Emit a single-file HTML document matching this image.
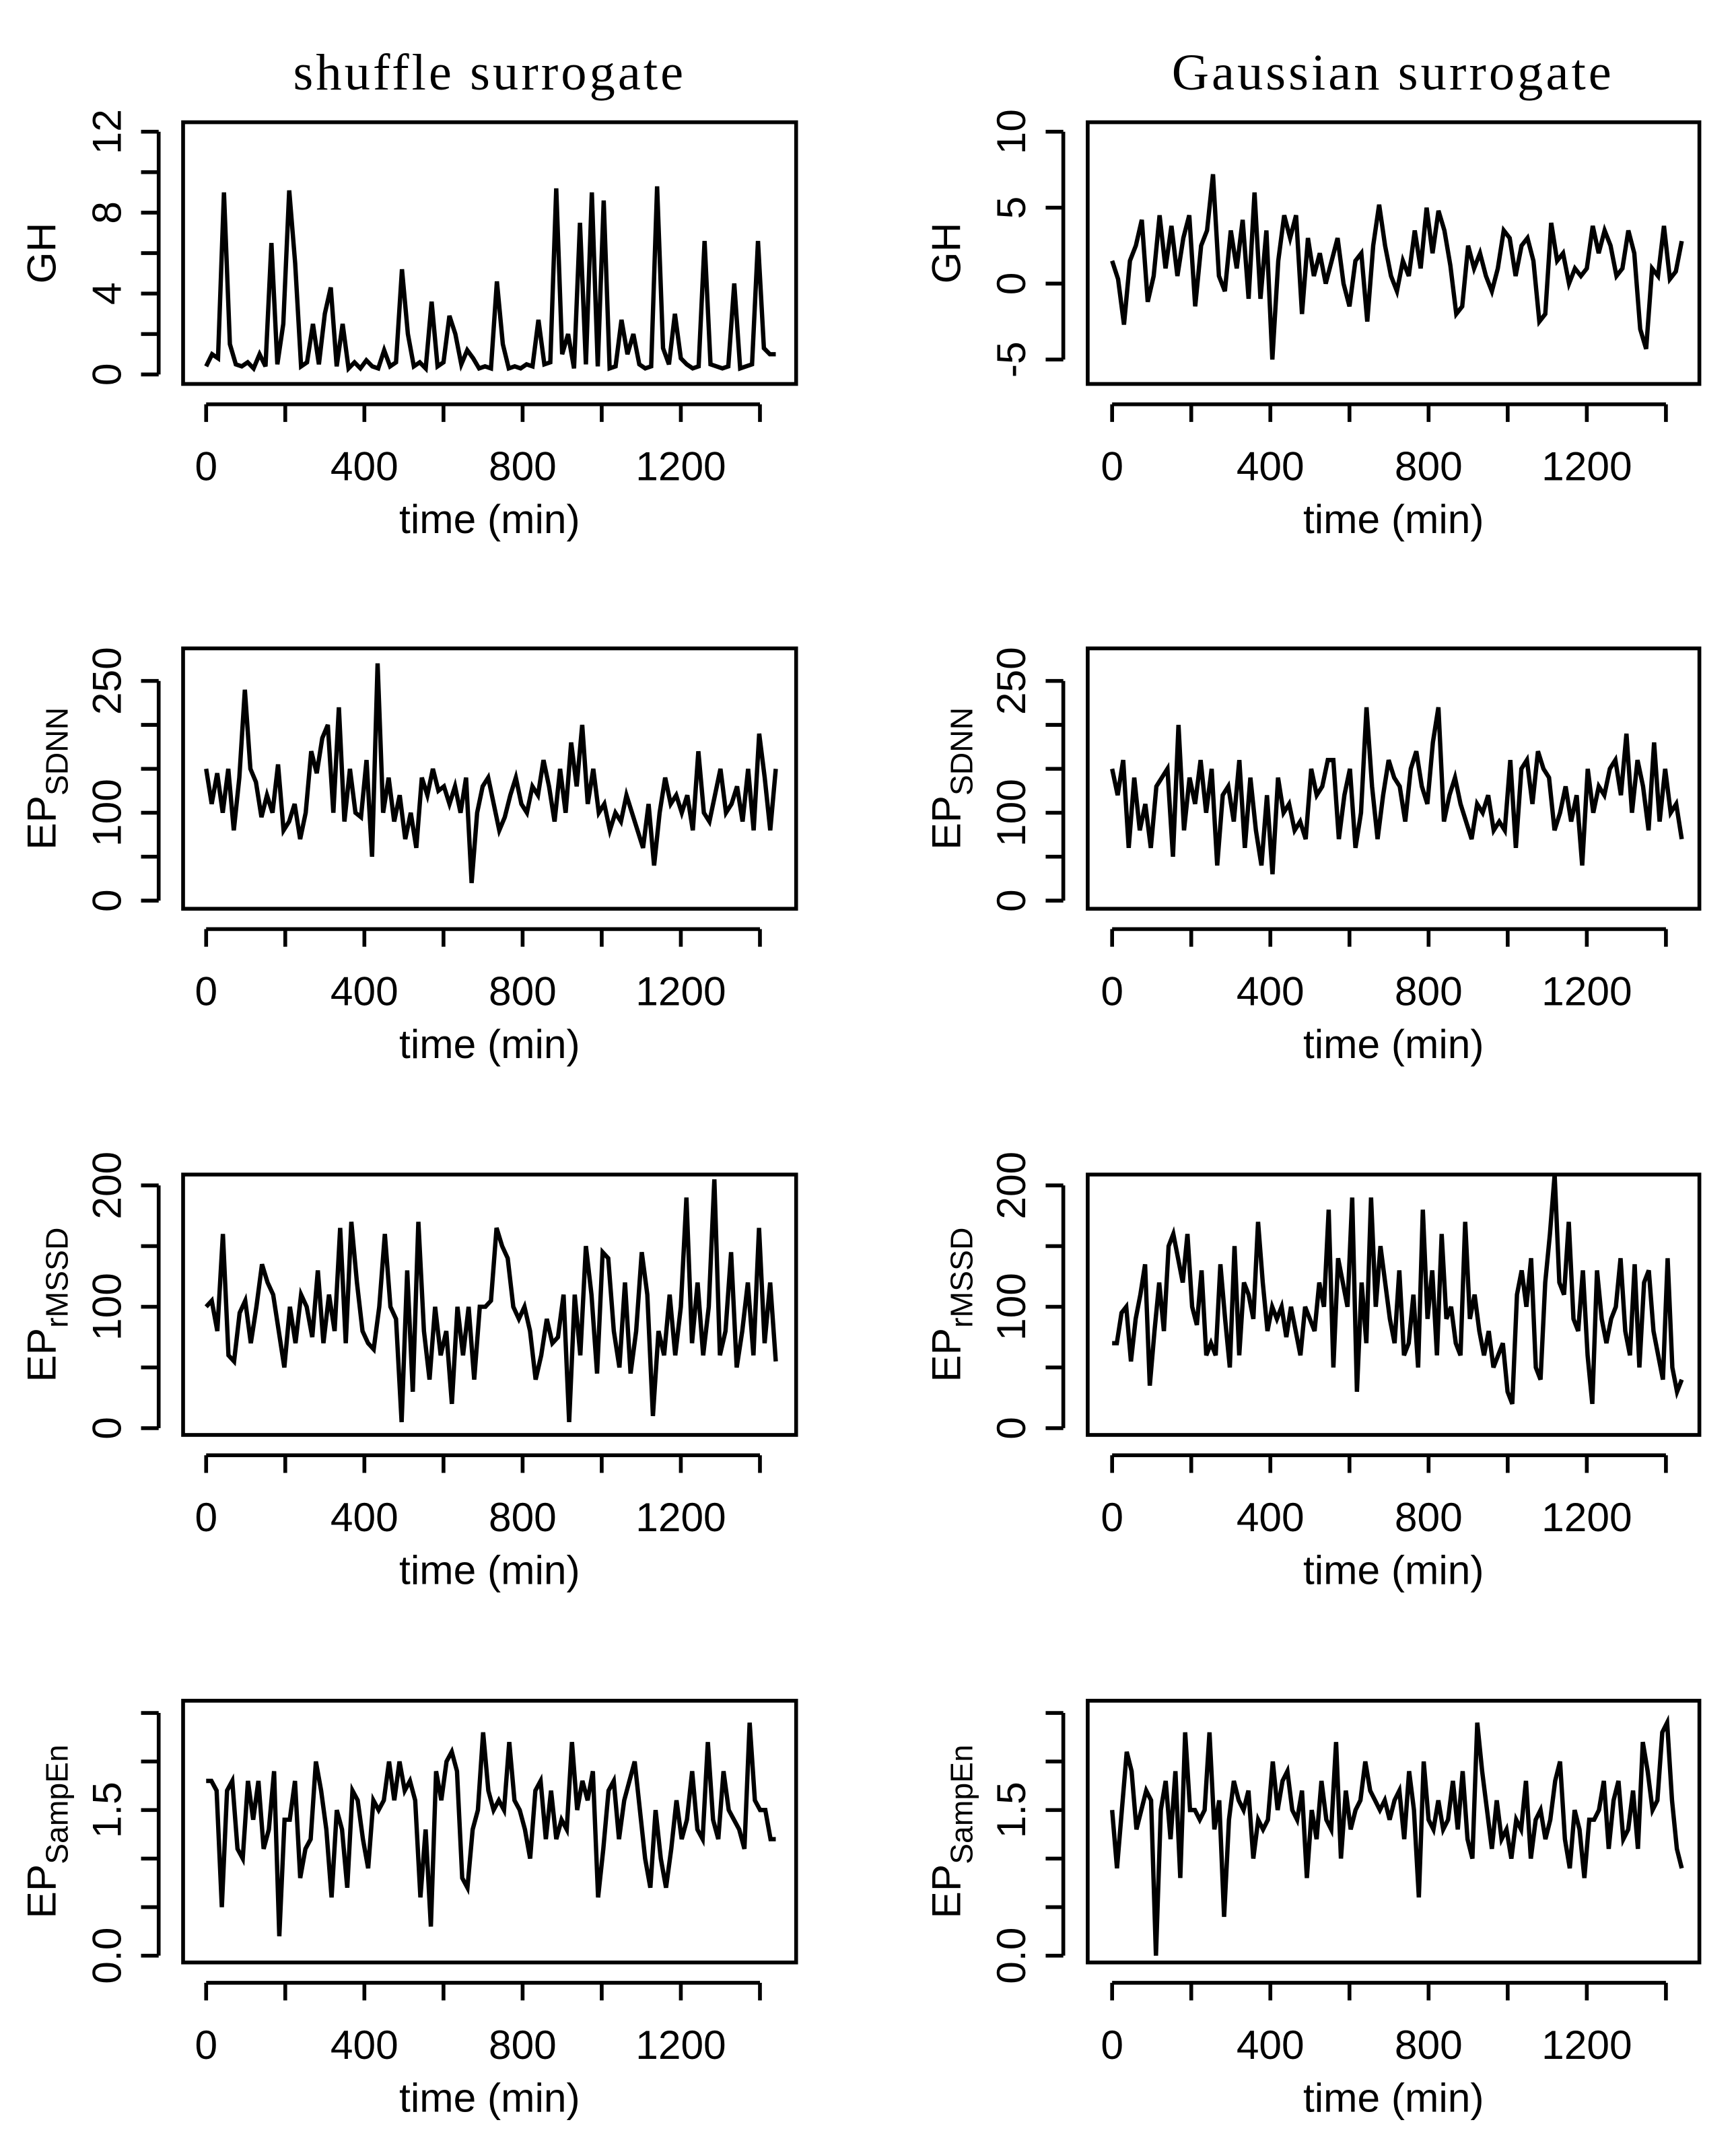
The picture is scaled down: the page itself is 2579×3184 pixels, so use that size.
<!DOCTYPE html>
<html><head><meta charset="utf-8"><style>
html,body{margin:0;padding:0;background:#fff;}
svg{display:block;}
text{font-family:"Liberation Sans",Arial,sans-serif;fill:#000;}
.ttl{font-family:"Liberation Serif",serif;font-size:38px;letter-spacing:2px;}
.tick{font-size:30px;}
</style></head><body>
<svg id="fig" xmlns="http://www.w3.org/2000/svg" width="2579" height="3184" viewBox="0 0 1280 1580">
<rect width="1280" height="1580" fill="#fff"/>
<text class="ttl" x="361" y="66" text-anchor="middle">shuffle surrogate</text>
<text class="ttl" x="1027" y="66" text-anchor="middle">Gaussian surrogate</text>
</svg>
<script>
const ghShuffle=[0.4,1.0,0.8,9.0,1.5,0.5,0.4,0.6,0.3,1.0,0.4,6.5,0.5,2.5,9.1,5.5,0.4,0.6,2.5,0.5,3.0,4.3,0.4,2.5,0.3,0.6,0.3,0.7,0.4,0.3,1.2,0.4,0.6,5.2,2.0,0.4,0.6,0.3,3.6,0.4,0.6,2.9,2.0,0.5,1.2,0.8,0.3,0.4,0.3,4.6,1.5,0.3,0.4,0.3,0.5,0.4,2.7,0.5,0.6,9.2,1.0,2.0,0.3,7.5,0.5,9.0,0.4,8.6,0.3,0.4,2.7,1.0,2.0,0.5,0.3,0.4,9.3,1.3,0.5,3.0,0.8,0.5,0.3,0.4,6.6,0.5,0.4,0.3,0.4,4.5,0.3,0.4,0.5,6.6,1.3,1.0,1.0];
const ghGauss=[1.5,0.3,-2.7,1.5,2.5,4.2,-1.2,0.5,4.5,1.0,3.8,0.5,3.0,4.5,-1.5,2.5,3.5,7.2,0.5,-0.5,3.5,1.0,4.2,-1.0,6.0,-1.0,3.5,-5.0,1.5,4.5,3.0,4.5,-2.0,3.0,0.5,2.0,0.0,1.5,3.0,0.0,-1.5,1.5,2.0,-2.5,2.5,5.2,2.5,0.5,-0.5,1.5,0.5,3.5,1.0,5.0,2.0,4.8,3.5,1.2,-2.0,-1.5,2.5,1.0,2.0,0.5,-0.5,1.0,3.5,3.0,0.5,2.5,3.0,1.5,-2.5,-2.0,4.0,1.5,2.0,0.0,1.0,0.5,1.0,3.8,2.0,3.5,2.5,0.5,1.0,3.5,2.0,-3.0,-4.3,1.0,0.5,3.8,0.3,0.8,2.8];
const sdnnShuffle=[150,110,145,100,150,80,140,240,150,135,95,120,100,155,80,90,110,70,100,170,145,185,200,100,220,90,150,100,95,160,50,270,100,140,90,120,70,100,60,140,120,150,125,130,110,130,100,140,20,100,130,140,110,80,95,120,140,110,100,130,120,160,130,90,150,100,180,130,200,110,150,100,110,80,100,90,120,100,80,60,110,40,100,140,110,120,100,120,80,170,100,90,120,150,100,110,130,90,150,80,190,140,80,150];
const sdnnGauss=[150,120,160,60,140,80,110,60,130,140,150,50,200,80,140,110,160,100,150,40,120,130,90,160,60,140,80,40,120,30,140,100,110,80,90,70,150,120,130,160,160,70,120,150,60,100,220,130,70,120,160,140,130,90,150,170,130,110,180,220,90,120,140,110,90,70,110,100,120,80,90,80,160,60,150,160,110,170,150,140,80,100,130,90,120,40,150,100,130,120,150,160,120,190,100,160,130,80,180,90,150,100,110,70];
const rmssdShuffle=[100,105,80,160,60,55,95,105,70,100,135,120,110,80,50,100,70,110,100,75,130,70,110,80,165,70,170,120,80,70,65,100,160,100,90,5,130,30,170,80,40,100,60,80,20,100,60,100,40,100,100,105,165,150,140,100,90,100,80,40,60,90,70,75,110,5,110,60,150,110,45,145,140,80,50,120,45,80,145,110,10,80,60,110,60,100,190,70,120,60,100,205,60,80,145,50,80,120,60,165,70,120,55];
const rmssdGauss=[70,70,95,100,55,90,110,135,35,80,120,80,150,160,140,120,160,100,85,130,60,70,60,135,90,50,150,60,120,110,90,170,120,80,100,90,100,75,100,80,60,100,90,80,120,100,180,50,140,120,100,190,30,120,70,190,100,150,120,90,70,130,60,70,110,50,180,90,130,60,160,90,100,70,60,170,90,110,80,60,80,50,60,70,30,20,110,130,100,140,50,40,120,160,210,120,110,170,90,80,130,60,20,130,90,70,90,100,140,80,60,135,50,120,130,80,60,40,140,50,30,40];
const sampShuffle=[1.8,1.8,1.7,0.5,1.7,1.8,1.1,1.0,1.8,1.4,1.8,1.1,1.3,1.9,0.2,1.4,1.4,1.8,0.8,1.1,1.2,2.0,1.7,1.3,0.6,1.5,1.3,0.7,1.7,1.6,1.2,0.9,1.6,1.5,1.6,2.0,1.6,2.0,1.7,1.8,1.6,0.6,1.3,0.3,1.9,1.6,2.0,2.1,1.9,0.8,0.7,1.3,1.5,2.3,1.7,1.5,1.6,1.5,2.2,1.6,1.5,1.3,1.0,1.7,1.8,1.2,1.7,1.2,1.4,1.3,2.2,1.5,1.8,1.6,1.9,0.6,1.1,1.7,1.8,1.2,1.6,1.8,2.0,1.5,1.0,0.7,1.5,1.0,0.7,1.1,1.6,1.2,1.4,1.9,1.3,1.2,2.2,1.4,1.2,1.9,1.5,1.4,1.3,1.1,2.4,1.6,1.5,1.5,1.2,1.2];
const sampGauss=[1.5,0.9,1.5,2.1,1.9,1.3,1.5,1.7,1.6,0,1.5,1.8,1.2,1.9,0.8,2.3,1.5,1.5,1.4,1.5,2.3,1.3,1.6,0.4,1.4,1.8,1.6,1.5,1.7,1.0,1.4,1.3,1.4,2.0,1.5,1.8,1.9,1.5,1.4,1.7,0.8,1.5,1.2,1.8,1.4,1.3,2.2,1.0,1.7,1.3,1.5,1.6,2.0,1.7,1.6,1.5,1.6,1.4,1.6,1.7,1.2,1.9,1.5,0.6,2.0,1.4,1.3,1.6,1.3,1.4,1.8,1.3,1.9,1.2,1.0,2.4,1.9,1.5,1.1,1.6,1.2,1.3,1.0,1.4,1.3,1.8,1.0,1.4,1.5,1.2,1.4,1.8,2.0,1.2,0.9,1.5,1.3,0.8,1.4,1.4,1.5,1.8,1.1,1.6,1.8,1.2,1.3,1.7,1.1,2.2,1.9,1.5,1.6,2.3,2.4,1.6,1.1,0.9];
const xTicks=[0,200,400,600,800,1000,1200,1400];
const xLabels=["0","","400","","800","","1200",""];
const tEnd=1440;

const NS="http://www.w3.org/2000/svg";
const svg=document.getElementById('fig');
function mk(tag,at,parent){const e=document.createElementNS(NS,tag);for(const k in at)e.setAttribute(k,at[k]);(parent||svg).appendChild(e);return e;}

const rows=[
 {top:90,bot:283,lab:'GH',sub:''},
 {top:478,bot:670,lab:'EP',sub:'SDNN'},
 {top:866,bot:1058,lab:'EP',sub:'rMSSD'},
 {top:1254,bot:1447,lab:'EP',sub:'SampEn'}
];
const panels=[
 {row:0,col:0,data:ghShuffle,v0:0,p0:276,v1:12,p1:97,ticks:[0,2,4,6,8,10,12],labels:["0","","4","","8","","12"],name:'gh-shuffle'},
 {row:0,col:1,data:ghGauss,v0:-5,p0:265,v1:10,p1:97,ticks:[-5,0,5,10],labels:["-5","0","5","10"],name:'gh-gaussian'},
 {row:1,col:0,data:sdnnShuffle,v0:0,p0:664,v1:250,p1:502,ticks:[0,50,100,150,200,250],labels:["0","","100","","","250"],name:'sdnn-shuffle'},
 {row:1,col:1,data:sdnnGauss,v0:0,p0:664,v1:250,p1:502,ticks:[0,50,100,150,200,250],labels:["0","","100","","","250"],name:'sdnn-gaussian'},
 {row:2,col:0,data:rmssdShuffle,v0:0,p0:1053,v1:200,p1:874,ticks:[0,50,100,150,200],labels:["0","","100","","200"],name:'rmssd-shuffle'},
 {row:2,col:1,data:rmssdGauss,v0:0,p0:1053,v1:200,p1:874,ticks:[0,50,100,150,200],labels:["0","","100","","200"],name:'rmssd-gaussian'},
 {row:3,col:0,data:sampShuffle,v0:0,p0:1442,v1:2.5,p1:1263,ticks:[0,0.5,1,1.5,2,2.5],labels:["0.0","","","1.5","",""],name:'sampen-shuffle'},
 {row:3,col:1,data:sampGauss,v0:0,p0:1442,v1:2.5,p1:1263,ticks:[0,0.5,1,1.5,2,2.5],labels:["0.0","","","1.5","",""],name:'sampen-gaussian'}
];
const cols=[{left:135,right:587,x0:152},{left:802,right:1253,x0:820}];
const pxPerMin=350/1200;

panels.forEach(p=>{
 const r=rows[p.row],c=cols[p.col];
 const g=mk('g',{});
 
 
 const X=t=>c.x0+t*pxPerMin;
 const Y=v=>p.p0+(v-p.v0)*(p.p1-p.p0)/(p.v1-p.v0);
 const n=p.data.length;
 const pts=p.data.map((v,i)=>X(i*tEnd/(n-1)).toFixed(2)+','+Math.max(r.top,Math.min(r.bot,Y(v))).toFixed(2)).join(' ');
 const line=mk('polyline',{points:pts,fill:'none',stroke:'#000','stroke-width':3.2,'stroke-linejoin':'miter'},g);
 
 
 const box=mk('rect',{x:c.left,y:r.top,width:c.right-c.left,height:r.bot-r.top,fill:'none',stroke:'#000','stroke-width':2.8},g);
 
 
 const ax=r.bot+15;
 const xa=mk('g',{},g);
 
 
 mk('line',{x1:X(xTicks[0]),x2:X(xTicks[xTicks.length-1]),y1:ax,y2:ax,stroke:'#000','stroke-width':2.8},xa);
 xTicks.forEach((t,i)=>{
  mk('line',{x1:X(t),x2:X(t),y1:ax,y2:ax+13,stroke:'#000','stroke-width':2.8},xa);
  if(xLabels[i]){const tx=mk('text',{class:'tick',x:X(t),y:r.bot+71,'text-anchor':'middle'},xa);tx.textContent=xLabels[i];}
 });
 const xt=mk('text',{class:'tick',x:(c.left+c.right)/2,y:r.bot+110,'text-anchor':'middle'},g);
 xt.textContent='time (min)';
 
 
 const ay=c.left-18;
 const ya=mk('g',{},g);
 
 
 mk('line',{x1:ay,x2:ay,y1:Y(p.ticks[0]),y2:Y(p.ticks[p.ticks.length-1]),stroke:'#000','stroke-width':2.8},ya);
 p.ticks.forEach((v,i)=>{
  mk('line',{x1:ay,x2:ay-13,y1:Y(v),y2:Y(v),stroke:'#000','stroke-width':2.8},ya);
  if(p.labels[i]){const tx=mk('text',{class:'tick',x:0,y:0,'text-anchor':'middle',transform:`translate(${ay-28},${Y(v)}) rotate(-90)`},ya);tx.textContent=p.labels[i];}
 });
 const cy=(r.top+r.bot)/2;
 const yt=mk('text',{class:'tick','font-size':31,x:0,y:0,'text-anchor':'middle',transform:`translate(${c.left-94},${cy}) rotate(-90)`},g);
 
 
 const s1=mk('tspan',{},yt);s1.textContent=r.lab;
 if(r.sub){const s2=mk('tspan',{'font-size':23,dy:9},yt);s2.textContent=r.sub;}
});
</script>
</body></html>
